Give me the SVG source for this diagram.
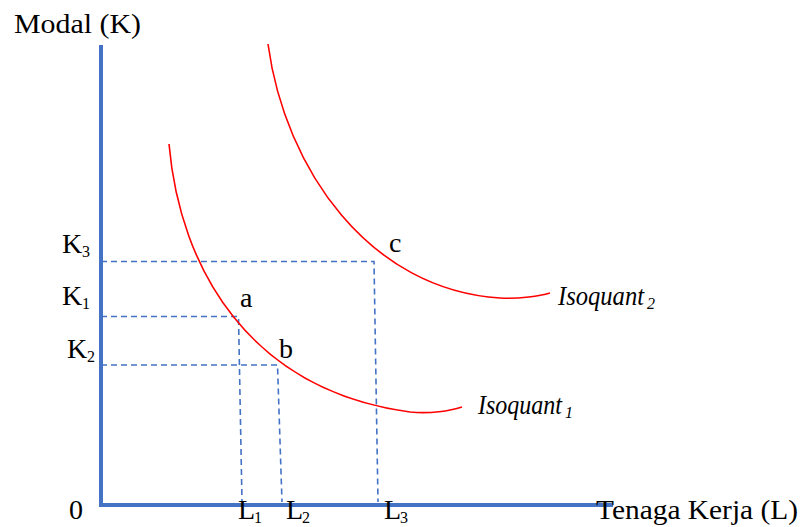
<svg xmlns="http://www.w3.org/2000/svg" width="807" height="527" viewBox="0 0 807 527">
<style>
text{font-family:"Liberation Serif","DejaVu Serif",serif;font-size:28px;fill:#000}
.it{font-style:italic}
.sub{font-size:16px}
.axis{stroke:#4472C4;stroke-width:4;fill:none}
.dash{stroke:#4472C4;stroke-width:1.6;stroke-dasharray:6,4;fill:none}
.iso{stroke:#FF0000;stroke-width:1.6;fill:none}
</style>
<rect width="807" height="527" fill="#fff"/>
<g id="connectors">
<path class="dash" d="M101,261.5 H374 L378,502"/>
<path class="dash" d="M101,316.5 H238.5 L242,502"/>
<path class="dash" d="M101,365 H277.5 L282,502"/>
</g>
<g id="isoquant1">
<path class="iso" d="M169,144 C180,270 250,390 410,412 C430,414 450,411 462,407"/>
<text class="it" x="478" y="414" textLength="84" lengthAdjust="spacingAndGlyphs">Isoquant</text><text class="it sub" x="565" y="418">1</text>
</g>
<g id="isoquant2">
<path class="iso" d="M268,44 C285,170 370,290 500,298 C520,299 540,296 550,293"/>
<text class="it" x="558" y="305" textLength="86" lengthAdjust="spacingAndGlyphs">Isoquant</text><text class="it sub" x="647" y="309">2</text>
</g>
<g id="axes">
<path class="axis" d="M101,45 V505 H613"/>
</g>
<g id="labels">
<text x="14" y="33" textLength="127" lengthAdjust="spacingAndGlyphs">Modal (K)</text>
<text x="596" y="519" textLength="202" lengthAdjust="spacingAndGlyphs">Tenaga Kerja (L)</text>
<text x="69" y="519">0</text>
<text x="62" y="253">K</text><text class="sub" x="82" y="257">3</text>
<text x="62" y="305">K</text><text class="sub" x="82" y="309">1</text>
<text x="67" y="358">K</text><text class="sub" x="87" y="362">2</text>
<text x="238" y="519">L</text><text class="sub" x="254" y="523">1</text>
<text x="286" y="519">L</text><text class="sub" x="302" y="523">2</text>
<text x="384" y="519">L</text><text class="sub" x="400" y="523">3</text>
<text x="240" y="307">a</text>
<text x="279" y="358">b</text>
<text x="389" y="252">c</text>
</g>
</svg>
